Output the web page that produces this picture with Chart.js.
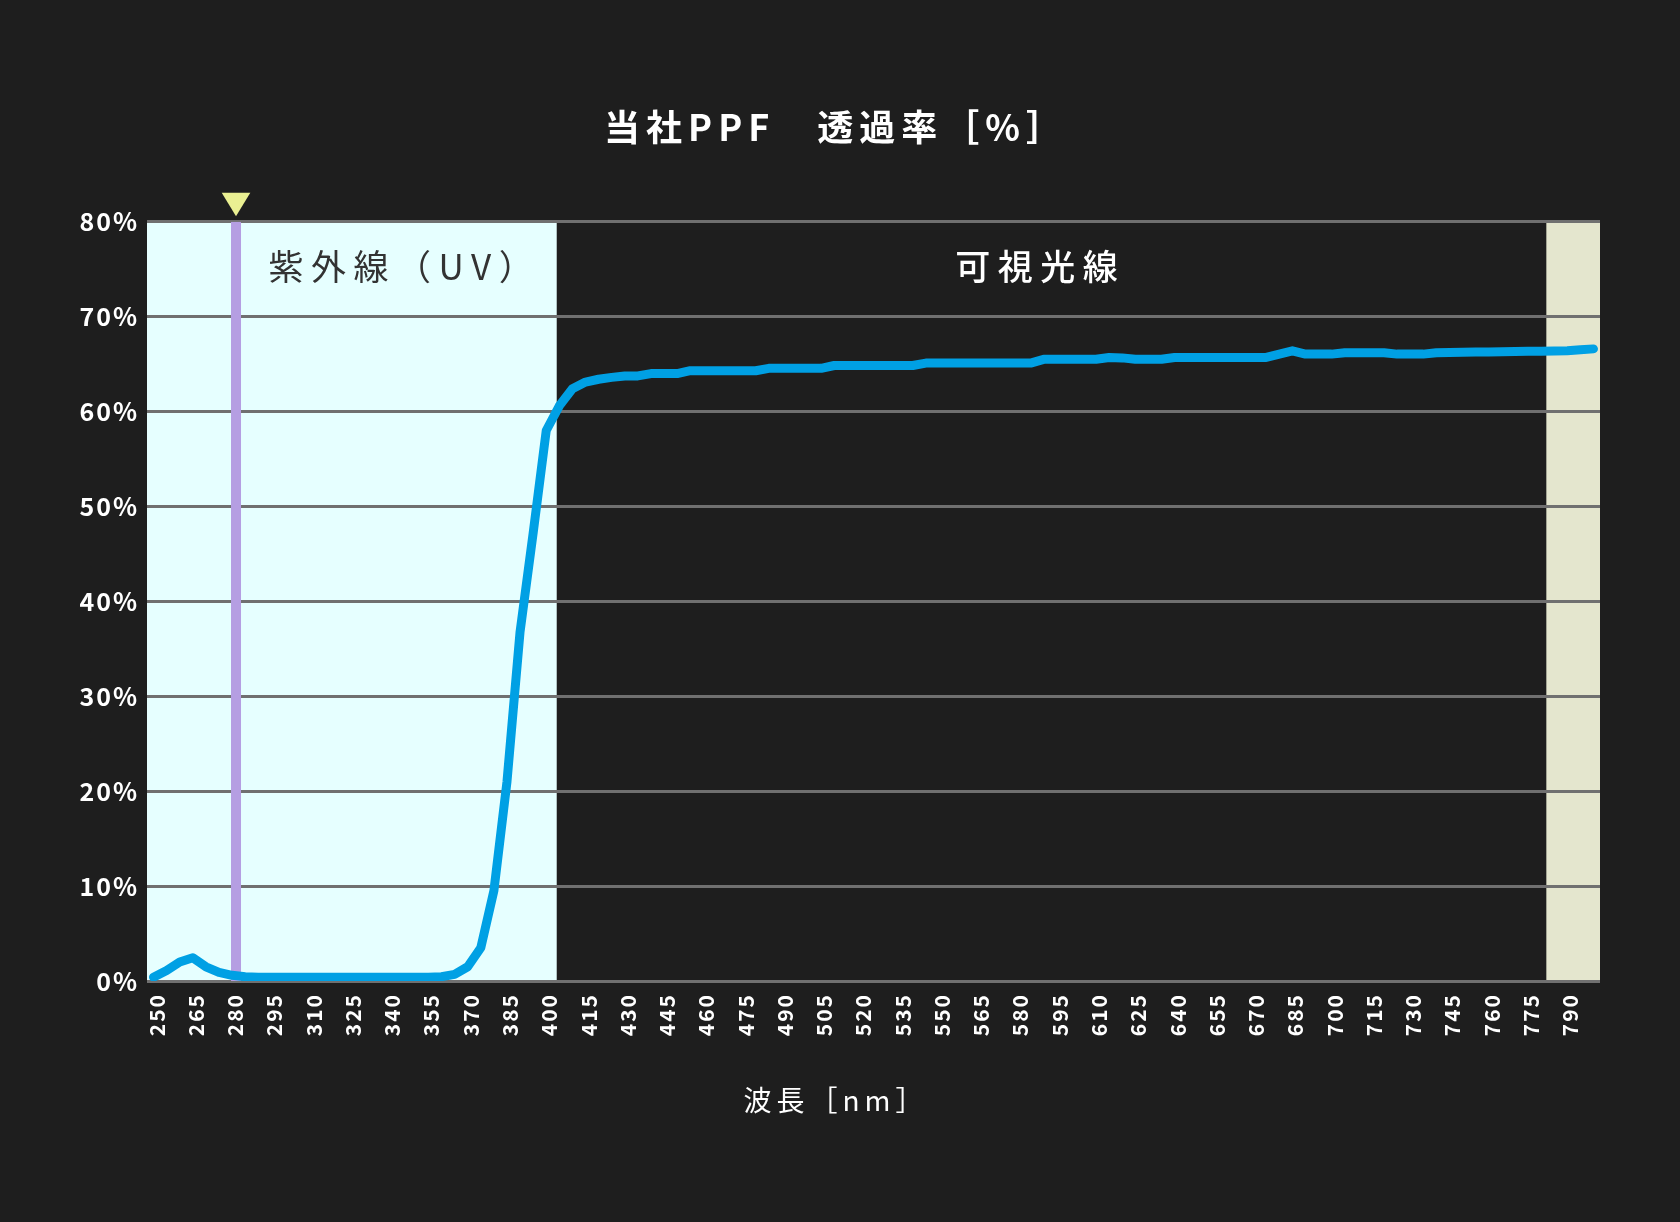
<!DOCTYPE html>
<html>
<head>
<meta charset="utf-8">
<script src="https://cdn.jsdelivr.net/npm/chart.js@4.4.1/dist/chart.umd.min.js"></script>
<style>
html,body{margin:0;padding:0;background:#1e1e1e;}
canvas{display:block;}
</style>
</head>
<body>
<canvas id="c" width="1680" height="1222"></canvas>
<script>
// ---- data ----
const wavelengths = [250,255,260,265,270,275,280,285,290,295,300,305,310,315,320,325,330,335,340,345,
  350,355,360,365,370,375,380,385,390,395,400,405,410,415,420,425,430,435,440,445,
  450,455,460,465,470,475,480,485,490,495,500,505,510,515,520,525,530,535,540,545,
  550,555,560,565,570,575,580,585,590,595,600,605,610,615,620,625,630,635,640,645,
  650,655,660,665,670,675,680,685,690,695,700,705,710,715,720,725,730,735,740,745,
  750,755,760,765,770,775,780,785,790,795,800];
const transmittance = [0.4,1.1,2.0,2.45,1.5,0.9,0.6,0.45,0.4,0.4,0.4,0.4,0.4,0.4,0.4,0.4,0.4,0.4,0.4,0.4,
  0.4,0.4,0.45,0.7,1.5,3.5,9.5,21.0,36.8,47.2,58.0,60.6,62.4,63.1,63.4,63.6,63.75,63.75,64.0,64.0,
  64.0,64.3,64.3,64.3,64.3,64.3,64.3,64.55,64.55,64.55,64.55,64.55,64.85,64.85,64.85,64.85,64.85,64.85,64.85,65.1,
  65.1,65.1,65.1,65.1,65.1,65.1,65.1,65.1,65.5,65.5,65.5,65.5,65.5,65.7,65.65,65.5,65.5,65.5,65.7,65.7,
  65.7,65.7,65.7,65.7,65.7,65.7,66.05,66.4,66.05,66.05,66.05,66.2,66.2,66.2,66.2,66.05,66.05,66.05,66.2,66.22,
  66.24,66.26,66.28,66.3,66.32,66.34,66.36,66.38,66.4,66.5,66.6];
const xTickValues = [250,265,280,295,310,325,340,355,370,385,400,415,430,445,460,475,490,505,520,535,
  550,565,580,595,610,625,640,655,670,685,700,715,730,745,760,775,790];
const yTickValues = [0,10,20,30,40,50,60,70,80];
const markerWavelength = 281.5;
const uvRegionEnd = 404;
const irRegionStart = 782;
const chartTitle = '当社PPF　透過率［%］';
const xAxisTitle = '波長［nm］';
const uvLabel = '紫外線（UV）';
const visibleLabel = '可視光線';
const uvLabelPos = [346, 75.3];
const visibleLabelPos = [588.7, 75.3];

const FONT = '"Noto Sans CJK JP", "Noto Sans", sans-serif';

function spaced(box, spacing) {
  if (box._spacedWrapped) return;
  const orig = box.draw;
  box.draw = function (...args) {
    const ctx = this.ctx;
    const prev = ctx.letterSpacing;
    ctx.letterSpacing = spacing;
    orig.apply(this, args);
    ctx.letterSpacing = prev;
  };
  box._spacedWrapped = true;
}

const deco = {
  id: 'deco',
  beforeLayout(chart) { chart.ctx.letterSpacing = '2px'; },
  afterLayout(chart) {
    chart.boxes.forEach(b => {
      if (!b.options) return;
      if (b.options.text === chartTitle) spaced(b, '6px');
      else if (b.options.text === xAxisTitle) spaced(b, '5px');
    });
  },
  beforeDraw(chart) {
    const {ctx, chartArea: a, scales: {x}} = chart;
    ctx.letterSpacing = '2px';
    ctx.save();
    const xu = x.getPixelForValue(uvRegionEnd);
    ctx.fillStyle = '#e6ffff';
    ctx.fillRect(a.left, a.top, xu - a.left, a.bottom - a.top);
    const xi = x.getPixelForValue(irRegionStart);
    ctx.fillStyle = '#e4e6ce';
    ctx.fillRect(xi, a.top, a.right - xi, a.bottom - a.top);
    ctx.restore();
  },
  beforeDatasetsDraw(chart) {
    const {ctx, scales: {x, y}} = chart;
    ctx.save();
    ctx.letterSpacing = '7.5px';
    ctx.textAlign = 'center';
    ctx.textBaseline = 'middle';
    ctx.font = '400 35px ' + FONT;
    ctx.fillStyle = '#333333';
    ctx.fillText(uvLabel, x.getPixelForValue(uvLabelPos[0]), y.getPixelForValue(uvLabelPos[1]));
    ctx.font = '500 35px ' + FONT;
    ctx.fillStyle = '#ffffff';
    ctx.fillText(visibleLabel, x.getPixelForValue(visibleLabelPos[0]), y.getPixelForValue(visibleLabelPos[1]));
    ctx.restore();
  },
  afterDatasetsDraw(chart) {
    const {ctx, chartArea: a, scales: {x}} = chart;
    const px = x.getPixelForValue(markerWavelength);
    ctx.save();
    ctx.fillStyle = '#eaf092';
    ctx.beginPath();
    ctx.moveTo(px - 14.3, a.top - 29);
    ctx.lineTo(px + 14.3, a.top - 29);
    ctx.lineTo(px, a.top - 5.5);
    ctx.closePath();
    ctx.fill();
    ctx.restore();
  }
};

new Chart(document.getElementById('c'), {
  type: 'line',
  data: {
    datasets: [
      {
        label: 'transmittance',
        data: wavelengths.map((w, i) => ({x: w, y: transmittance[i]})),
        borderColor: '#00a0e4',
        borderWidth: 9,
        borderCapStyle: 'round',
        borderJoinStyle: 'round',
        pointRadius: 0,
        tension: 0,
        fill: false,
        order: 0
      },
      {
        label: 'marker',
        data: [{x: markerWavelength, y: yTickValues[0]}, {x: markerWavelength, y: yTickValues[yTickValues.length - 1]}],
        borderColor: '#b59ee2',
        borderWidth: 10,
        borderCapStyle: 'butt',
        pointRadius: 0,
        fill: false,
        order: 1
      }
    ]
  },
  options: {
    responsive: false,
    devicePixelRatio: 1,
    animation: false,
    layout: {padding: {left: 72, right: 80, top: 0, bottom: 0}},
    plugins: {
      legend: {display: false},
      tooltip: {enabled: false},
      title: {
        display: true,
        text: chartTitle,
        color: '#ffffff',
        font: {family: FONT, size: 36, weight: 'bold'},
        padding: {top: 105.4, bottom: 73.1}
      },
      subtitle: {
        display: true,
        position: 'bottom',
        text: xAxisTitle,
        color: '#ffffff',
        font: {family: FONT, size: 28, weight: 'normal'},
        padding: {top: 22.2, bottom: 105.2}
      }
    },
    scales: {
      x: {
        type: 'linear',
        min: 247.5,
        max: 802.5,
        afterBuildTicks: s => { s.ticks = xTickValues.map(v => ({value: v})); },
        afterFit: s => { s.height = 80; },
        grid: {display: false, drawTicks: false},
        border: {display: false},
        ticks: {
          autoSkip: false,
          minRotation: 90,
          maxRotation: 90,
          padding: 12,
          labelOffset: 3,
          color: '#ffffff',
          font: {family: FONT, size: 21, weight: 'bold'},
          callback: v => String(v)
        }
      },
      y: {
        min: 0,
        max: 80,
        afterBuildTicks: s => { s.ticks = yTickValues.map(v => ({value: v})); },
        afterFit: s => { s.width = 75; },
        grid: {color: '#707070', lineWidth: 3, drawTicks: false},
        border: {display: false},
        ticks: {
          padding: 8,
          color: '#ffffff',
          font: {family: FONT, size: 25, weight: 'bold'},
          callback: v => v + '%'
        }
      }
    }
  },
  plugins: [deco]
});
</script>
</body>
</html>
